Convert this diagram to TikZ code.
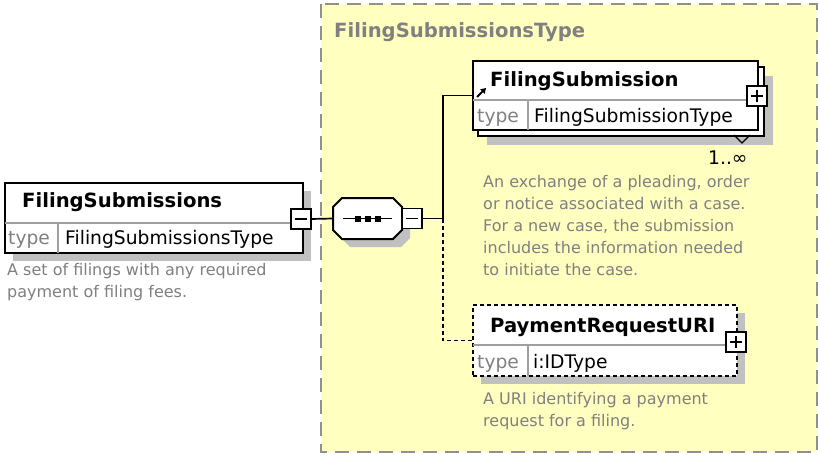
\documentclass[tikz,border=0pt]{standalone}
\usepackage{fontspec}
\setmainfont{DejaVu Sans}
\usetikzlibrary{shadows,arrows.meta}
\definecolor{typeyellow}{RGB}{255,255,192}
\definecolor{dashgray}{RGB}{144,144,144}
\definecolor{docgray}{RGB}{128,128,128}
\definecolor{rulegray}{RGB}{160,160,160}
\definecolor{shadowgray}{RGB}{192,192,192}
\tikzset{
  elembox/.style={draw=black, line width=2pt, fill=white, anchor=north west, inner sep=0pt, outer sep=0pt},
  boxshadow/.style={drop shadow={shadow xshift=#1, shadow yshift=-#1, fill=shadowgray, opacity=1}},
  rowline/.style={draw=rulegray, line width=1.3pt},
  namelbl/.style={font=\fontsize{19.6}{22}\selectfont\bfseries, anchor=base west, inner sep=0pt},
  typelbl/.style={font=\fontsize{18.7}{22}\selectfont, text=docgray, anchor=base west, inner sep=0pt},
  typeval/.style={font=\fontsize{18.7}{22}\selectfont, anchor=base west, inner sep=0pt},
  doclbl/.style={font=\fontsize{16}{22}\selectfont, text=docgray, align=left, anchor=base west, inner sep=0pt},
  conn/.style={draw=black, line width=1.7pt},
  signbox/.style={draw=black, fill=white, line width=1.6pt, minimum size=20pt, inner sep=0pt, outer sep=0pt},
  minusbox/.style={signbox, path picture={
      \draw[line width=1.5pt] ([xshift=4pt]path picture bounding box.west) -- ([xshift=-4pt]path picture bounding box.east);}},
  plusbox/.style={signbox, path picture={
      \draw[line width=1.5pt] ([xshift=4pt]path picture bounding box.west) -- ([xshift=-4pt]path picture bounding box.east);
      \draw[line width=1.5pt] ([yshift=-4pt]path picture bounding box.north) -- ([yshift=4pt]path picture bounding box.south);}},
  seqbox/.style={minimum width=69pt, minimum height=41pt, inner sep=0pt, outer sep=0pt}
}
\begin{document}
\begin{tikzpicture}[x=1pt, y=-1pt]
\useasboundingbox (0,0) rectangle (818,455);
\fill[white] (0,0) rectangle (818,455);

\filldraw[fill=typeyellow, draw=dashgray, line width=1.8pt, dash pattern=on 14pt off 8pt] (321,4) rectangle (817,452);
\node[namelbl, text=docgray] (typetitle) at (334,37) {FilingSubmissionsType};

\node[elembox, boxshadow=8pt, minimum width=298pt, minimum height=70pt] (subs) at (5,183) {};
\draw[rowline] (5,223) -- (303,223);
\draw[rowline] (58,223) -- (58,253);
\node[namelbl] (subsname) at (22,207) {FilingSubmissions};
\node[typelbl] (substype) at (8,244) {type};
\node[typeval] (substypeval) at (65,244) {FilingSubmissionsType};
\node[minusbox] (subsminus) at (301,219) {};
\node[doclbl] (subsdoc) at (7,297) {A set of filings with any required\\payment of filing fees.};

\node[seqbox] (seq) at (367.5,218.5) {};
\fill[shadowgray] (350,206) -- (401,206) -- (410,215) -- (410,238) -- (401,247) -- (350,247) -- (341,238) -- (341,215) -- cycle;
\filldraw[fill=white, line width=2pt] (342,198) -- (393,198) -- (402,207) -- (402,230) -- (393,239) -- (342,239) -- (333,230) -- (333,207) -- cycle;
\draw[line width=1.6pt] (343,218.5) -- (392,218.5);
\foreach \dx in {358,367.5,377.5}
  \fill (\dx-3,215.5) rectangle (\dx+3,221.5);
\node[minusbox] (seqminus) at (412,218.5) {};

\node[elembox, boxshadow=9pt, minimum width=286pt, minimum height=69pt] (subback) at (478,67) {};
\node[elembox, minimum width=285pt, minimum height=69pt] (sub) at (473,61) {};
\draw[rowline] (473,100) -- (758,100);
\draw[rowline] (528,100) -- (528,130);
\node[namelbl] (subname) at (490,86) {FilingSubmission};
\node[typelbl] (subtype) at (477,122) {type};
\node[typeval] (subtypeval) at (534,122) {FilingSubmissionType};
\draw[-{Triangle[length=5pt,width=6pt]}, line width=1.8pt] (477,97) -- (486,88);
\node[plusbox] (subplus) at (757,96) {};
\draw[line width=1.2pt] (734,135) -- (742,143) -- (750,135);
\node[typeval] (subocc) at (708,164) {1..∞};
\node[doclbl] (subdoc) at (483,275) {An exchange of a pleading, order\\or notice associated with a case.\\For a new case, the submission\\includes the information needed\\to initiate the case.};

\node[elembox, boxshadow=8pt, dash pattern=on 4pt off 3pt, minimum width=264pt, minimum height=71pt] (pay) at (473,305) {};
\draw[rowline] (473,345) -- (737,345);
\draw[rowline] (528,345) -- (528,376);
\node[namelbl] (payname) at (490,332) {PaymentRequestURI};
\node[typelbl] (paytype) at (477,368) {type};
\node[typeval] (paytypeval) at (533,368) {i:IDType};
\node[plusbox] (payplus) at (736,342) {};
\node[doclbl] (paydoc) at (483,426) {A URI identifying a payment\\request for a filing.};

\coordinate (fork) at (443,218.5);
\draw[conn] (subsminus.east) -- (seq.west);
\draw[conn] (seqminus.east) -- (fork) |- (sub.west);
\draw[conn, dash pattern=on 4pt off 3pt] (fork) |- (pay.west);
\end{tikzpicture}
\end{document}
